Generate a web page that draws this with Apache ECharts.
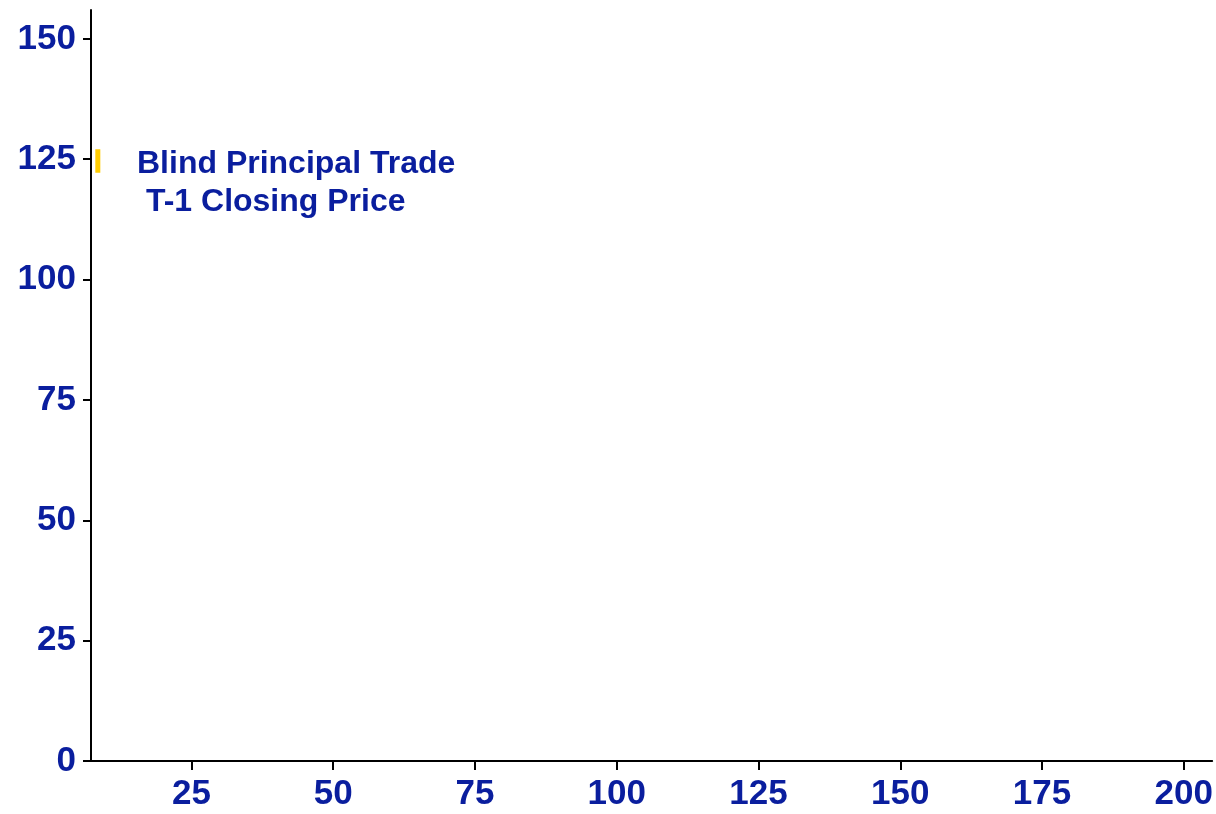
<!DOCTYPE html>
<html><head><meta charset="utf-8">
<script src="https://cdn.jsdelivr.net/npm/echarts@6/dist/echarts.min.js"></script>
<style>html,body{margin:0;padding:0;background:#fff}#c{width:1216px;height:814px}</style>
</head><body><div id="c"></div>
<script>
const xTicks = [25, 50, 75, 100, 125, 150, 175, 200];
const yTicks = [0, 25, 50, 75, 100, 125, 150];
const xRange = [7.3, 205];
const yRange = [0, 156];
const tradeX = [8.5, 8.5];
const tradeY = [122.2, 127.1];
const labels = ['Blind Principal Trade', ' T-1 Closing Price'];

const blue = '#0A1E9E';
const chart = echarts.init(document.getElementById('c'));
chart.setOption({
  animation: false,
  grid: {left: 91, right: 2, top: 10, bottom: 53, containLabel: false},
  xAxis: {
    type: 'value', min: xRange[0], max: xRange[1],
    splitLine: {show: false},
    axisLine: {lineStyle: {color: '#000', width: 2}},
    axisTick: {show: true, length: 9, lineStyle: {color: '#000', width: 2}, customValues: xTicks},
    axisLabel: {customValues: xTicks, color: blue, fontSize: 35, fontWeight: 'bold', fontFamily: 'Liberation Sans', margin: 16}
  },
  yAxis: {
    type: 'value', min: yRange[0], max: yRange[1],
    splitLine: {show: false},
    axisLine: {show: true, lineStyle: {color: '#000', width: 2}},
    axisTick: {show: true, length: 8, lineStyle: {color: '#000', width: 2}, customValues: yTicks},
    axisLabel: {customValues: yTicks, color: blue, fontSize: 35, fontWeight: 'bold', fontFamily: 'Liberation Sans', margin: 15}
  },
  graphic: [{
    type: 'text', left: 137, top: 145,
    style: {text: labels.join('\n'), fill: blue, font: 'bold 32px "Liberation Sans", Arial, sans-serif', lineHeight: 38}
  }],
  series: [{
    type: 'line',
    data: tradeX.map((x, i) => [x, tradeY[i]]),
    symbol: 'none',
    lineStyle: {color: '#FFCC00', width: 5},
    silent: true
  }]
});
</script></body></html>
